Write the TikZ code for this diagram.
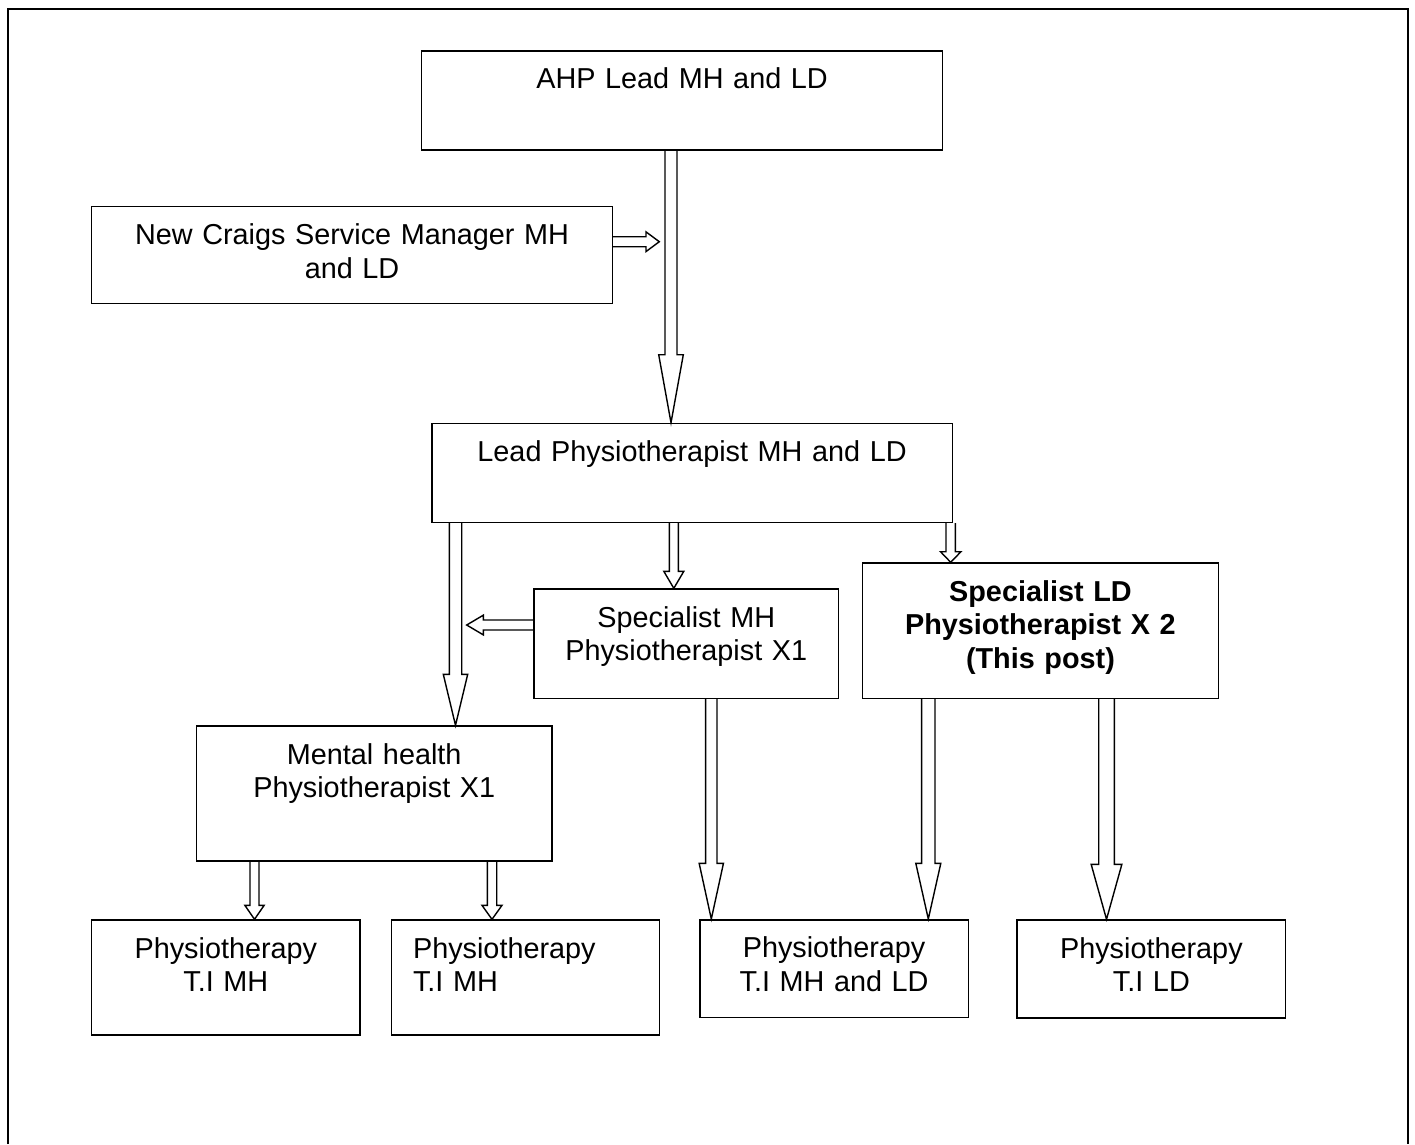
\documentclass[tikz,border=0pt]{standalone}
\usepackage{fontspec}
\setmainfont{Liberation Sans}
\usetikzlibrary{calc}

% hollow block arrow pointing down: from, to, half shaft, half head, head length (px)
\newcommand{\blockdown}[5]{%
  \draw[blockarrow] ($(#1)+(-#3,0)$) -- ($(#2)+(-#3,-#5)$) -- ($(#2)+(-#4,-#5)$) -- (#2)
    -- ($(#2)+(#4,-#5)$) -- ($(#2)+(#3,-#5)$) -- ($(#1)+(#3,0)$);}
% hollow block arrow sideways, last argument 1 = right, -1 = left
\newcommand{\blockside}[6]{%
  \draw[blockarrow] ($(#1)+(0,-#3)$) -- ($(#2)+({-1*(#6)*#5},-#3)$) -- ($(#2)+({-1*(#6)*#5},-#4)$) -- (#2)
    -- ($(#2)+({-1*(#6)*#5},#4)$) -- ($(#2)+({-1*(#6)*#5},#3)$) -- ($(#1)+(0,#3)$);}

\begin{document}
\begin{tikzpicture}[
    x=0.02cm, y=-0.02cm,
    box/.style={draw, line width=0.85pt, anchor=north west, inner sep=0pt, align=center, text height=0.76cm, font=\fontsize{16.4}{19.1}\selectfont},
    blockarrow/.style={line width=0.8pt, line join=miter}
]
\useasboundingbox (0,0) rectangle (1415,1144);

% Outer frame
\draw[line width=1.2pt] (8,1144) -- (8,9) -- (1408,9) -- (1408,1144);

% Top
\node[box, text width=10.426cm, text depth=1.226cm] (ahp) at (420.7,50) {AHP Lead MH and LD};
\node[box, text width=10.414cm, text depth=1.18cm] (craigs) at (91,205.7) {New Craigs Service Manager MH\\and LD};

% Lead
\node[box, text width=10.414cm, text depth=1.22cm] (lead) at (431,422.7) {Lead Physiotherapist MH and LD};

% Specialists
\node[box, text width=6.088cm, text depth=1.428cm] (specmh) at (533.3,588.3) {Specialist MH\\Physiotherapist X1};
\node[box, text width=7.12cm, text depth=1.948cm, font=\fontsize{16.4}{19.1}\selectfont\bfseries] (specld) at (861.7,562.3) {Specialist LD\\Physiotherapist X 2\\(This post)};
\node[box, text width=7.112cm, text depth=1.94cm] (mental) at (195.7,725.3) {Mental health\\Physiotherapist X1};

% Technical instructors
\node[box, text width=5.366cm, text depth=1.54cm] (timh1) at (91,919.3) {Physiotherapy\\T.I MH};
\node[box, inner xsep=0.432cm, text width=4.496cm, align=left, text depth=1.54cm] (timh2) at (390.7,919.3) {Physiotherapy\\T.I MH};
\node[box, text width=5.374cm, text depth=1.2cm] (timhld) at (699,919) {Physiotherapy\\T.I MH and LD};
\node[box, text width=5.374cm, text depth=1.2cm] (tild) at (1016.3,919.3) {Physiotherapy\\T.I LD};

% Arrow ends that stop beside another arrow
\coordinate (craigsin) at (659.3,241.7);
\coordinate (specmhout) at (466.7,625);

% Block arrows
\blockdown{ahp.south -| 671,0}{lead.north -| 671,0}{6}{12.3}{68}
\blockside{craigs.east |- 0,241.7}{craigsin}{5}{9.85}{13.3}{1}
\blockdown{lead.south -| 455.5,0}{mental.north -| 455.5,0}{6.2}{12.2}{51}
\blockdown{lead.south -| 673.8,0}{specmh.north -| 673.8,0}{4.5}{10}{17}
\blockdown{lead.south -| 950.7,0}{specld.north -| 950.7,0}{4.7}{10.2}{10.6}
\blockside{specmh.west |- 0,625}{specmhout}{5}{9.85}{16.6}{-1}
\blockdown{specmh.south -| 711.3,0}{timhld.north -| 711.3,0}{5.65}{12.15}{55.7}
\blockdown{specld.south -| 928.3,0}{timhld.north -| 928.3,0}{6.65}{12.5}{55.7}
\blockdown{specld.south -| 1106.5,0}{tild.north -| 1106.5,0}{7.8}{15.35}{55}
\blockdown{mental.south -| 254.5,0}{timh1.north -| 254.5,0}{4.5}{9.65}{14}
\blockdown{mental.south -| 492,0}{timh2.north -| 492,0}{4.7}{10}{14}

\end{tikzpicture}
\end{document}
